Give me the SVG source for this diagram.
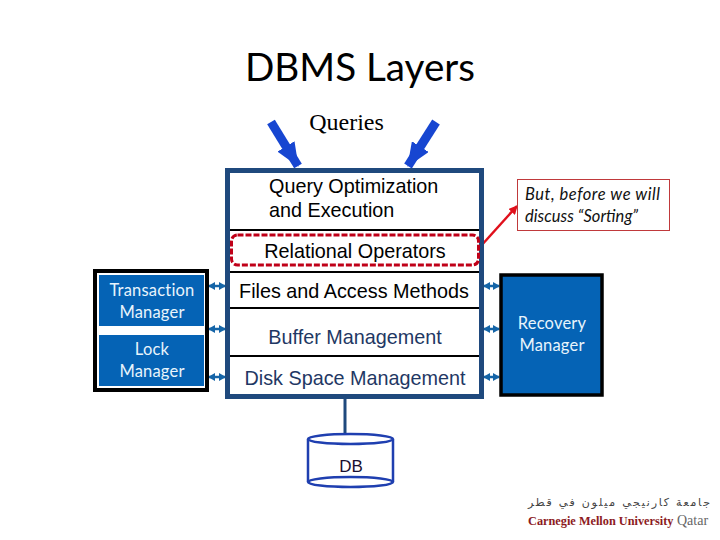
<svg xmlns="http://www.w3.org/2000/svg" width="720" height="540" viewBox="0 0 720 540">
<style>
.a{font-family:"Liberation Sans",Arial,sans-serif;font-size:19.800px;text-anchor:middle;fill:#000}
.n{fill:#1f3864}
.c{font-family:Lato,"Noto Sans",sans-serif;font-size:16.500px;letter-spacing:.2px;text-anchor:middle;fill:#e8f4fc}
.m{fill:#0563b5}
.d{fill:none;stroke:#000;stroke-width:2}
.b{stroke:#1565a8;stroke-width:2.5;fill:none;marker-start:url(#bs);marker-end:url(#be)}
.q{stroke:#1746d1;stroke-width:9;fill:none;marker-end:url(#qh)}
.t{font-family:Lato,"Noto Sans",sans-serif;font-size:16.500px;font-style:italic;fill:#111}
</style>
<defs>
<marker id="be" markerUnits="userSpaceOnUse" markerWidth="7" markerHeight="8" refX="6" refY="4" orient="auto"><path d="M0 0L7 4L0 8z" fill="#1565a8"/></marker>
<marker id="bs" markerUnits="userSpaceOnUse" markerWidth="7" markerHeight="8" refX="1" refY="4" orient="auto"><path d="M7 0L0 4L7 8z" fill="#1565a8"/></marker>
<marker id="qh" markerUnits="userSpaceOnUse" markerWidth="24" markerHeight="20" refX="23" refY="10" orient="auto"><path d="M0 0L24 10L0 20z" fill="#1746d1"/></marker>
<marker id="rh" markerUnits="userSpaceOnUse" markerWidth="9" markerHeight="9" refX="8" refY="4.500" orient="auto"><path d="M0 0L9 4.500L0 9z" fill="#e0101c"/></marker>
</defs>
<rect width="720" height="540" fill="#fff"/>
<g id="title"><text x="360" y="81" font-family="Lato,'Noto Sans',sans-serif" font-size="39" text-anchor="middle" textLength="230" lengthAdjust="spacingAndGlyphs">DBMS Layers</text></g>
<g id="queries"><text x="346.500" y="130" font-family="'Liberation Serif',serif" font-size="24" text-anchor="middle">Queries</text></g>
<g id="connectors">
<path class="q" d="M271 122L298 166"/>
<path class="q" d="M436 122L408 166"/>
<path d="M345 399V435" stroke="#1f497d" stroke-width="3" fill="none"/>
<path d="M480 247L517 206" stroke="#e0101c" stroke-width="2.500" fill="none" marker-end="url(#rh)"/>
<path class="b" d="M209 286H225"/>
<path class="b" d="M209 329H225"/>
<path class="b" d="M209 377H225"/>
<path class="b" d="M484 286H499"/>
<path class="b" d="M484 329H499"/>
<path class="b" d="M484 377H499"/>
</g>
<g id="layers">
<rect x="227.500" y="170.500" width="254" height="226" fill="#fff" stroke="#1f497d" stroke-width="5"/>
<path class="d" d="M230 230H479M230 272H479M230 308H479M230 356H479"/>
</g>
<g id="query-optimization"><text class="a" x="269" y="193" style="text-anchor:start">Query Optimization</text><text class="a" x="269" y="217" style="text-anchor:start">and Execution</text></g>
<g id="relational-operators">
<rect x="231.500" y="235" width="247" height="30" rx="6" fill="#fff" stroke="#c00018" stroke-width="3" stroke-dasharray="6 2"/>
<text class="a" x="355" y="258">Relational Operators</text></g>
<g id="files"><text class="a" x="354" y="298">Files and Access Methods</text></g>
<g id="buffer"><text class="a n" x="355" y="344">Buffer Management</text></g>
<g id="disk"><text class="a n" x="355" y="385">Disk Space Management</text></g>
<g id="left-managers">
<rect x="95" y="271" width="112" height="119" fill="#fff" stroke="#000" stroke-width="4"/>
<g id="transaction-manager"><rect class="m" x="99" y="275" width="105" height="51"/><text class="c" x="152" y="296">Transaction</text><text class="c" x="152" y="318">Manager</text></g>
<g id="lock-manager"><rect class="m" x="99" y="335" width="105" height="51"/><text class="c" x="152" y="355">Lock</text><text class="c" x="152" y="377">Manager</text></g>
</g>
<g id="recovery-manager"><rect class="m" x="501" y="275" width="101" height="120" stroke="#000" stroke-width="3.500"/><text class="c" x="552" y="329">Recovery</text><text class="c" x="552" y="351">Manager</text></g>
<g id="note"><rect x="517.500" y="179.500" width="152" height="51" fill="#fff" stroke="#c0393b" stroke-width="1"/>
<text class="t" x="525" y="200" textLength="135" lengthAdjust="spacing">But, before we will</text>
<text class="t" x="525" y="222" textLength="113" lengthAdjust="spacing">discuss “Sorting”</text></g>
<g id="db">
<path d="M308 439V482A42.500 5 0 0 0 393 482V439" fill="#fff" stroke="#1f3fb0" stroke-width="2.500"/>
<ellipse cx="350.500" cy="439" rx="42.500" ry="5" fill="#fff" stroke="#1f3fb0" stroke-width="2.500"/>
<path d="M308 482A42.500 5 0 0 1 393 482" fill="none" stroke="#1f3fb0" stroke-width="2.500"/>
<text x="351" y="472" font-family="'Liberation Sans',sans-serif" font-size="17" text-anchor="middle" fill="#1a1030">DB</text></g>
<g id="logo">
<text x="619" y="506" font-family="'DejaVu Sans',sans-serif" font-size="11" text-anchor="middle" fill="#444" direction="rtl" textLength="182" lengthAdjust="spacing">جامعة كارنيجي ميلون في قطر</text>
<text x="528" y="525" font-family="'Liberation Serif',serif" font-size="12.300" font-weight="bold" fill="#8c1a22">Carnegie Mellon University</text>
<text x="677" y="525" font-family="'Liberation Serif',serif" font-size="14" fill="#666">Qatar</text></g>
</svg>
